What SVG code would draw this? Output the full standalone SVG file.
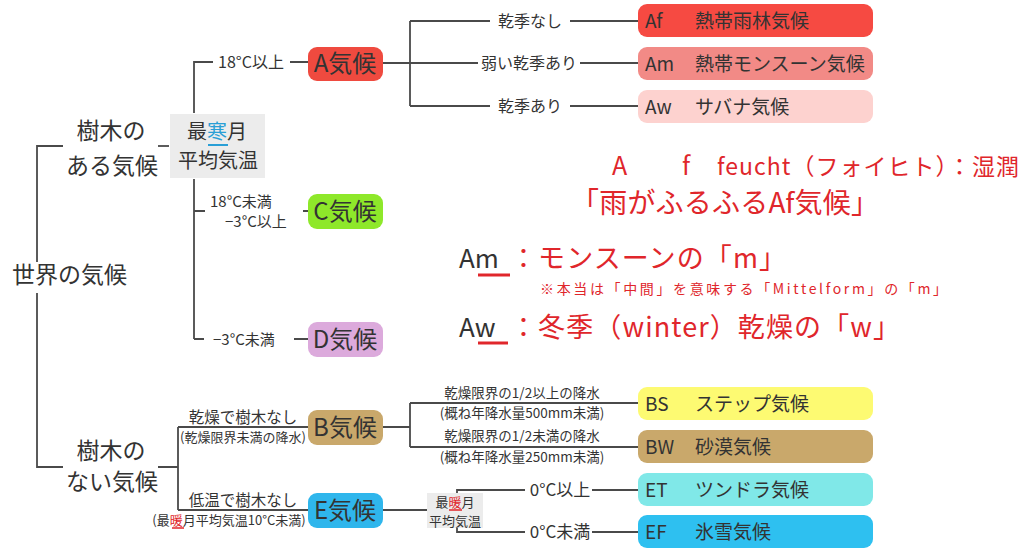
<svg xmlns="http://www.w3.org/2000/svg" width="1024" height="557" viewBox="0 0 1024 557">
<style>
text{font-family:"Noto Sans CJK JP","Noto Sans",sans-serif;fill:#333}
.ln{stroke:#4a4a4a;stroke-width:1.8;fill:none}
.big{font-size:23px}
.mid{font-size:20px}
.box{font-size:24px;text-anchor:middle}
.leaf{font-size:19px}
.lbl{font-size:16px;text-anchor:middle}
.sm{font-size:13.5px;text-anchor:middle}
.xs{font-size:13px;text-anchor:middle}
.red{fill:#e0262b}
.grey{fill:#ececec}
</style>
<rect width="1024" height="557" fill="#fff"/>

<g id="connectors">
  <path class="ln" d="M63,146 H37 V262 M37,293 V467 H63"/>
  <path class="ln" d="M158,146 H169"/>
  <path class="ln" d="M194,113 V62 H213 M290,62 H308"/>
  <path class="ln" d="M194,179 V339 M194,211 H205 M303,211 H308 M194,339 H204 M294,339 H308"/>
  <path class="ln" d="M383,63 H478 M410,21 V106 M410,21 H490 M570,21 H638 M580,63 H638 M410,106 H490 M570,106 H638"/>
  <path class="ln" d="M158,467 H178 M178,427 V510 M178,427 H308 M178,510 H308"/>
  <path class="ln" d="M383,427 H410 M410,403 V447 M410,403 H638 M410,447 H638"/>
  <path class="ln" d="M383,510 H427 M457,493 V490 H525 M592,490 H638 M457,528 V532 H525 M592,532 H638"/>
</g>

<g id="root">
  <text class="big" x="12" y="283">世界の気候</text>
</g>

<g id="tree">
  <text class="big" x="111" y="139" text-anchor="middle">樹木の</text>
  <text class="big" x="112" y="174" text-anchor="middle">ある気候</text>
</g>

<g id="coldest">
  <rect class="grey" x="170" y="114" width="95" height="64"/>
  <text class="mid" x="217" y="139" text-anchor="middle">最<tspan fill="#2a9fd6">寒</tspan>月</text>
  <line x1="208" y1="145" x2="228" y2="145" stroke="#2a9fd6" stroke-width="2"/>
  <text class="mid" x="218" y="168" text-anchor="middle">平均気温</text>
</g>

<g id="labels-ACD">
  <text class="lbl" x="251" y="68">18°C以上</text>
  <text font-size="15" x="210" y="207">18°C未満</text>
  <text font-size="15" x="225" y="227">−3°C以上</text>
  <text font-size="15" x="213" y="345">−3°C未満</text>
</g>

<g id="A">
  <rect x="308" y="47" width="75" height="34" rx="9" fill="#ef4a3f"/>
  <text class="box" x="345" y="72">A気候</text>
</g>
<g id="C">
  <rect x="308" y="194" width="75" height="35" rx="9" fill="#8ee82a"/>
  <text class="box" x="345" y="220">C気候</text>
</g>
<g id="D">
  <rect x="308" y="322" width="75" height="35" rx="9" fill="#dcaadc"/>
  <text class="box" x="345" y="348">D気候</text>
</g>

<g id="labels-A">
  <text class="lbl" x="530" y="27">乾季なし</text>
  <text class="lbl" x="529" y="69">弱い乾季あり</text>
  <text class="lbl" x="530" y="112">乾季あり</text>
</g>

<g id="Af">
  <rect x="638" y="4" width="235" height="33" rx="9" fill="#f64a42"/>
  <text class="leaf" x="645" y="28">Af</text>
  <text class="leaf" x="695" y="28">熱帯雨林気候</text>
</g>
<g id="Am">
  <rect x="638" y="47" width="235" height="33" rx="9" fill="#f28a86"/>
  <text class="leaf" x="645" y="71">Am</text>
  <text class="leaf" x="695" y="71">熱帯モンスーン気候</text>
</g>
<g id="Aw">
  <rect x="638" y="90" width="235" height="33" rx="9" fill="#fdd2cf"/>
  <text class="leaf" x="645" y="114">Aw</text>
  <text class="leaf" x="695" y="114">サバナ気候</text>
</g>

<g id="treeless">
  <text class="big" x="111" y="459" text-anchor="middle">樹木の</text>
  <text class="big" x="112" y="490" text-anchor="middle">ない気候</text>
</g>

<g id="labels-BE">
  <text font-size="15.5" x="243" y="423" text-anchor="middle">乾燥で樹木なし</text>
  <text class="xs" x="243" y="442">(乾燥限界未満の降水)</text>
  <text font-size="15.5" x="243" y="506" text-anchor="middle">低温で樹木なし</text>
  <text class="xs" x="229" y="525">(最<tspan fill="#e0262b">暖</tspan>月平均気温10°C未満)</text>
  <line x1="172" y1="528" x2="184" y2="528" stroke="#e0262b" stroke-width="1.5"/>
</g>

<g id="B">
  <rect x="308" y="410" width="75" height="35" rx="9" fill="#c9a86b"/>
  <text class="box" x="345" y="436">B気候</text>
</g>
<g id="E">
  <rect x="308" y="493" width="75" height="35" rx="9" fill="#2fb6ec"/>
  <text class="box" x="345" y="519">E気候</text>
</g>

<g id="labels-B">
  <text class="sm" x="522" y="398">乾燥限界の1/2以上の降水</text>
  <text class="sm" x="522" y="418">(概ね年降水量500mm未満)</text>
  <text class="sm" x="522" y="441">乾燥限界の1/2未満の降水</text>
  <text class="sm" x="522" y="462">(概ね年降水量250mm未満)</text>
</g>

<g id="warmest">
  <rect class="grey" x="427" y="493" width="56" height="35"/>
  <text class="xs" x="455" y="507">最<tspan fill="#e0262b">暖</tspan>月</text>
  <line x1="449" y1="510" x2="462" y2="510" stroke="#e0262b" stroke-width="1.5"/>
  <text class="xs" x="455" y="526">平均気温</text>
</g>

<g id="labels-E">
  <text font-size="17" x="560" y="496" text-anchor="middle">0°C以上</text>
  <text font-size="17" x="560" y="538" text-anchor="middle">0°C未満</text>
</g>

<g id="BS">
  <rect x="638" y="387" width="235" height="33" rx="9" fill="#fdfa72"/>
  <text class="leaf" x="645" y="411">BS</text>
  <text class="leaf" x="695" y="411">ステップ気候</text>
</g>
<g id="BW">
  <rect x="638" y="430" width="235" height="33" rx="9" fill="#c9a86b"/>
  <text class="leaf" x="645" y="454">BW</text>
  <text class="leaf" x="695" y="454">砂漠気候</text>
</g>
<g id="ET">
  <rect x="638" y="473" width="235" height="33" rx="9" fill="#80e8e8"/>
  <text class="leaf" x="645" y="497">ET</text>
  <text class="leaf" x="695" y="497">ツンドラ気候</text>
</g>
<g id="EF">
  <rect x="638" y="515" width="235" height="33" rx="9" fill="#2ec0f0"/>
  <text class="leaf" x="645" y="539">EF</text>
  <text class="leaf" x="695" y="539">氷雪気候</text>
</g>

<g id="notes">
  <text class="red" font-size="25" x="612" y="175">A</text>
  <text class="red" font-size="25" x="682" y="175">f</text>
  <text class="red" font-size="23" x="717" y="175" textLength="302" lengthAdjust="spacing">feucht（フォイヒト）：湿潤</text>
  <text class="red" font-size="28" x="571" y="213" textLength="308" lengthAdjust="spacing">「雨がふるふるAf気候」</text>

  <text font-size="26" x="459" y="268" fill="#333">Am</text>
  <line x1="478" y1="275" x2="510" y2="275" stroke="#e0262b" stroke-width="3"/>
  <text class="red" font-size="27" x="510" y="268" textLength="276" lengthAdjust="spacing">：モンスーンの「m」</text>
  <text class="red" font-size="14" x="540" y="294" textLength="407" lengthAdjust="spacing">※本当は「中間」を意味する「Mittelform」の「m」</text>

  <text font-size="26" x="459" y="337" fill="#333">Aw</text>
  <line x1="478" y1="343" x2="508" y2="343" stroke="#e0262b" stroke-width="3"/>
  <text class="red" font-size="27" x="510" y="337" textLength="390" lengthAdjust="spacing">：冬季（winter）乾燥の「w」</text>
</g>
</svg>
